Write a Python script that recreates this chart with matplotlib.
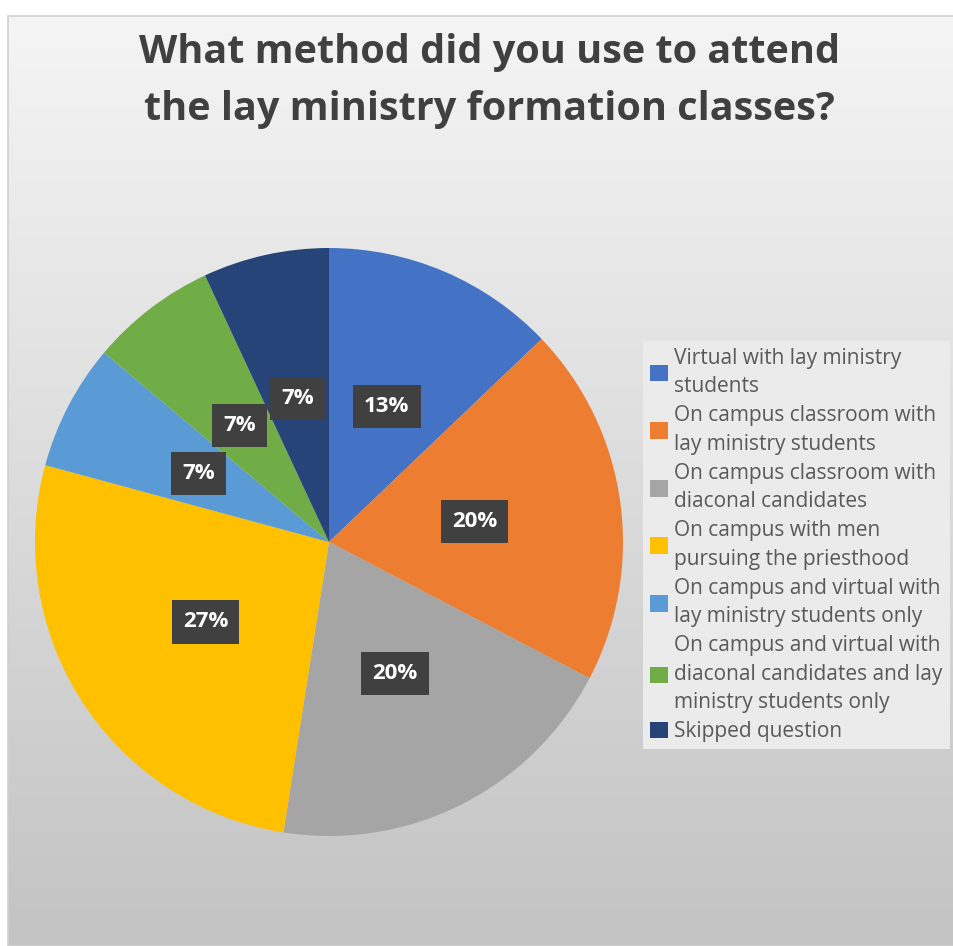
import numpy as np
import matplotlib.pyplot as plt
from matplotlib.patches import Rectangle

# survey answers (percent of respondents)
methods = [
    "Virtual with lay ministry\nstudents",
    "On campus classroom with\nlay ministry students",
    "On campus classroom with\ndiaconal candidates",
    "On campus with men\npursuing the priesthood",
    "On campus and virtual with\nlay ministry students only",
    "On campus and virtual with\ndiaconal candidates and lay\nministry students only",
    "Skipped question",
]
shares = [13, 20, 20, 27, 7, 7, 7]
colors = ["#4472C4", "#ED7D31", "#A5A5A5", "#FFC000", "#5B9BD5", "#70AD47", "#264478"]
title_lines = ["What method did you use to attend", "the lay ministry formation classes?"]

W, H = 954, 946
fig = plt.figure(figsize=(W / 100, H / 100), dpi=100)
fig.patch.set_facecolor("white")

# grey gradient panel behind everything
bg = fig.add_axes([8 / W, 0, 1 - 8 / W, 1 - 16 / H], zorder=0)
grad = np.linspace(0, 1, 256)[:, None]
top, bot = np.array([0.96, 0.96, 0.96]), np.array([0.765, 0.765, 0.765])
img = top[None, None, :] * (1 - grad[..., None]) + bot[None, None, :] * grad[..., None]
bg.imshow(img, aspect="auto", extent=[0, 1, 0, 1])
bg.set_axis_off()
bg.add_patch(Rectangle((0, 0), 1, 1, transform=bg.transAxes, fill=False,
                       edgecolor="#d0d0d0", lw=1.2, clip_on=False))

for line, base in zip(title_lines, [63, 120]):
    fig.text(0.513, 1 - base / H, line, ha="center", va="baseline", fontsize=28.5,
             fontweight="bold", family="Open Sans", color="#404040", zorder=3)

cx, cy, r = 329, 542, 294
ax = fig.add_axes([(cx - r) / W, (H - cy - r) / H, 2 * r / W, 2 * r / H], zorder=2)
ax.set_facecolor("none")
wedges, _, pcts = ax.pie(shares, colors=colors, startangle=90, counterclock=False,
                         autopct="%d", pctdistance=0.5, radius=1,
                         wedgeprops=dict(linewidth=0))
for t, v in zip(pcts, shares):
    t.set_text(f"{v}%")
    t.set_color("white")
    t.set_fontsize(16)
    t.set_fontweight("bold")
    t.set_family("Open Sans")
    t.set_bbox(dict(boxstyle="square,pad=0.5", facecolor="#404040", edgecolor="none"))
ax.set_xlim(-1, 1)
ax.set_ylim(-1, 1)

leg = fig.legend(wedges, methods, loc="center left", bbox_to_anchor=(643 / W, 1 - 545 / H),
                 frameon=True, facecolor="#ebebeb", edgecolor="none", framealpha=1,
                 fancybox=False, handlelength=0.85, handleheight=0.85, handletextpad=0.3,
                 labelspacing=0.4, borderpad=0.35, borderaxespad=0,
                 prop=dict(family="Open Sans", size=15))
for t in leg.get_texts():
    t.set_color("#595959")
    t.set_linespacing(1.45)
leg.set_zorder(4)

fig.savefig("out.png", dpi=100, facecolor="white")
